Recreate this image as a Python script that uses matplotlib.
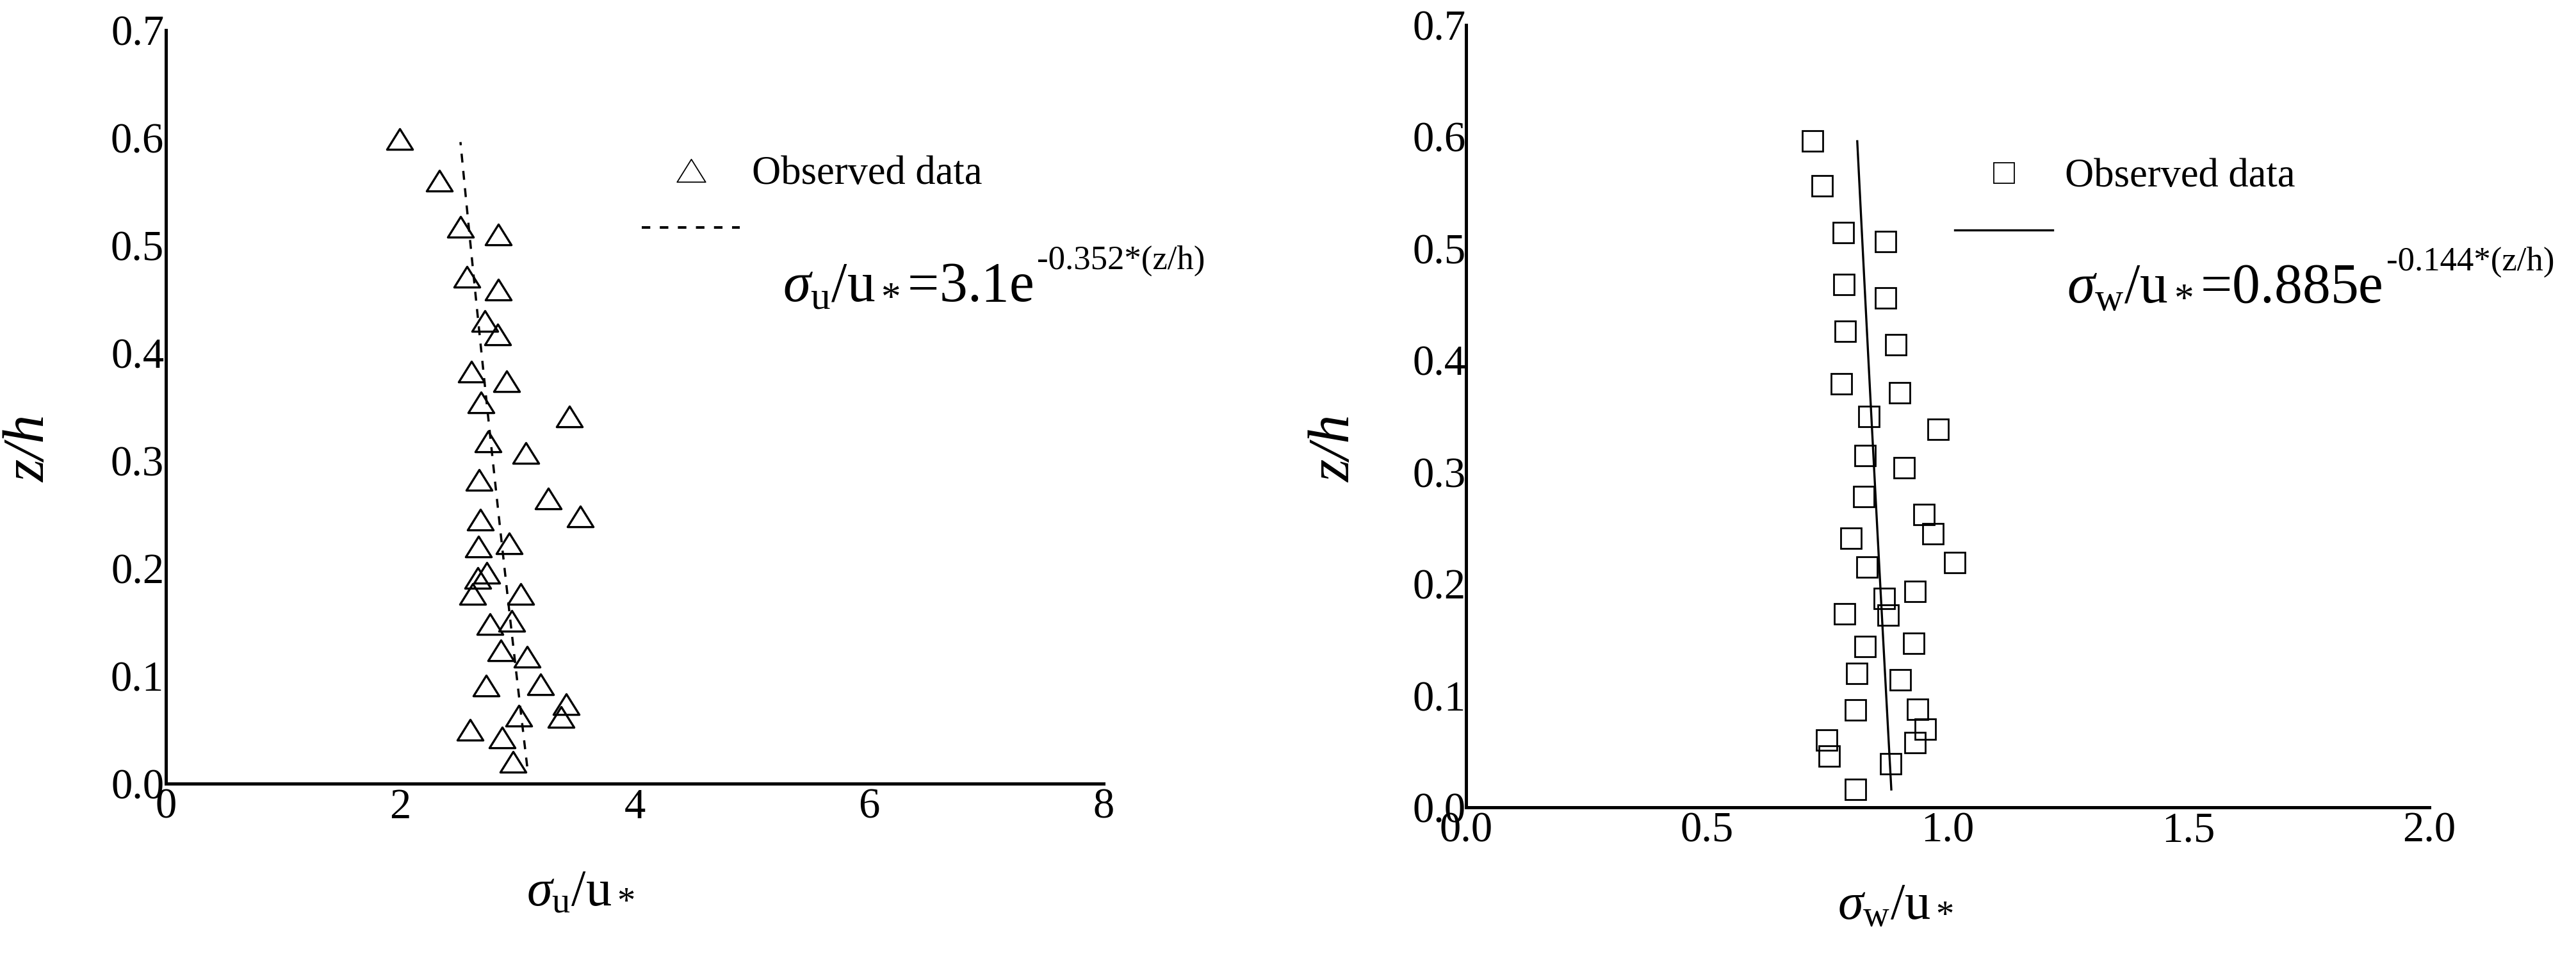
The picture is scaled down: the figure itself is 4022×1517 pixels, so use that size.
import numpy as np
import matplotlib
matplotlib.use("Agg")
import matplotlib.pyplot as plt
from matplotlib.lines import Line2D
from matplotlib.path import Path
from matplotlib.ticker import FormatStrFormatter

plt.rcParams["font.family"] = "Liberation Serif"
plt.rcParams["mathtext.fontset"] = "custom"
plt.rcParams["mathtext.rm"] = "Liberation Serif"
plt.rcParams["mathtext.it"] = "Liberation Serif:italic"

# left panel: sigma_u / u*  vs  z/h
sig_u = [1.995, 2.332, 2.514, 2.836, 2.569, 2.836, 2.724, 2.829, 2.609, 2.909,
         2.691, 3.442, 2.751, 3.069, 2.672, 3.260, 3.534, 2.683, 2.669, 2.929,
         2.738, 2.660, 2.618, 3.029, 2.765, 2.951, 2.860, 3.082, 2.734, 3.197,
         3.415, 3.370, 3.011, 2.593, 2.869, 2.960]
z_u = [0.599, 0.560, 0.517, 0.510, 0.471, 0.459, 0.430, 0.417, 0.383, 0.374,
       0.354, 0.341, 0.318, 0.307, 0.282, 0.265, 0.248, 0.245, 0.220, 0.223,
       0.196, 0.191, 0.176, 0.176, 0.148, 0.151, 0.124, 0.118, 0.091, 0.092,
       0.074, 0.062, 0.063, 0.050, 0.043, 0.020]

# right panel: sigma_w / u*  vs  z/h
sig_w = [0.720, 0.740, 0.783, 0.871, 0.785, 0.871, 0.787, 0.892, 0.779, 0.900,
         0.837, 0.980, 0.828, 0.910, 0.826, 0.951, 0.970, 0.799, 1.014, 0.832,
         0.932, 0.869, 0.876, 0.786, 0.828, 0.929, 0.811, 0.902, 0.809, 0.937,
         0.953, 0.932, 0.749, 0.754, 0.881, 0.809]
z_w = [0.596, 0.556, 0.514, 0.506, 0.468, 0.456, 0.426, 0.414, 0.379, 0.371,
       0.350, 0.338, 0.315, 0.304, 0.278, 0.262, 0.245, 0.241, 0.219, 0.215,
       0.193, 0.187, 0.172, 0.173, 0.144, 0.147, 0.120, 0.114, 0.087, 0.088,
       0.070, 0.058, 0.060, 0.046, 0.039, 0.016]

# fitted curves sigma/u* = a * exp(b * z/h), drawn over the observed z range
fit_u = (3.1, -0.352)
fit_w = (0.885, -0.144)
fit_z = (0.016, 0.596)

u_ticks = [0, 2, 4, 6, 8]
w_ticks = [0.0, 0.5, 1.0, 1.5, 2.0]
z_ticks = [0.0, 0.1, 0.2, 0.3, 0.4, 0.5, 0.6, 0.7]

W, H, DPI = 4022, 1517, 100
fig = plt.figure(figsize=(W / DPI, H / DPI), dpi=DPI)


def box(x0, x1, ytop, ybot):
    return [x0 / W, 1 - ybot / H, (x1 - x0) / W, (ybot - ytop) / H]


def fx(x):
    return x / W


def fy(y):
    return 1 - y / H


tri = Path([(-1, -0.8), (1, -0.8), (0, 0.8), (-1, -0.8)], closed=True)

ax1 = fig.add_axes(box(259, 1723, 47, 1223))
ax2 = fig.add_axes(box(2289, 3793, 39, 1260))

zz = np.linspace(fit_z[0], fit_z[1], 80)

ax1.plot(sig_u, z_u, ls="none", marker=tri, ms=29, mfc="none", mec="k", mew=2.4, clip_on=False)
ax1.plot(fit_u[0] * np.exp(fit_u[1] * zz), zz, color="k", lw=2.5, dashes=(4, 3.8))

ax2.plot(sig_w, z_w, ls="none", marker="s", ms=22.5, mfc="none", mec="k", mew=2.0, clip_on=False)
ax2.plot(fit_w[0] * np.exp(fit_w[1] * zz), zz, color="k", lw=2.4)

ax1.set_xlim(0, 8)
ax1.set_xticks(u_ticks)
ax2.set_xlim(0, 2.0)
ax2.set_xticks(w_ticks)
ax2.xaxis.set_major_formatter(FormatStrFormatter("%.1f"))

for ax, ypad in ((ax1, 2), (ax2, 0)):
    ax.set_ylim(0, 0.7)
    ax.set_yticks(z_ticks)
    ax.yaxis.set_major_formatter(FormatStrFormatter("%.1f"))
    for s in ("top", "right"):
        ax.spines[s].set_visible(False)
    for s in ("left", "bottom"):
        ax.spines[s].set_linewidth(3.6)
    ax.tick_params(axis="both", length=0, labelsize=48)
    ax.tick_params(axis="y", pad=ypad)
    ax.tick_params(axis="x", pad=5)

# axis labels
fig.text(fx(47), fy(700), "z/h", rotation=90, ha="center", va="center",
         fontsize=65, style="italic")
fig.text(fx(2085), fy(700), "z/h", rotation=90, ha="center", va="center",
         fontsize=65, style="italic")
fig.text(fx(906), fy(1413), r"$\sigma_{\rm u}$/u$_*$", ha="center", va="baseline", fontsize=58)
fig.text(fx(2960), fy(1435), r"$\sigma_{\rm w}$/u$_*$", ha="center", va="baseline", fontsize=58)

# legends
leg_kw = dict(loc="center left", bbox_transform=fig.transFigure, frameon=False,
              fontsize=45, borderpad=0, borderaxespad=0, handlelength=2.45,
              handletextpad=0.3, labelspacing=0.5, numpoints=1)
h1 = [Line2D([], [], ls="none", marker=tri, ms=32, mfc="none", mec="k", mew=1.3),
      Line2D([], [], color="k", lw=2.9, dashes=(3.3, 3.7))]
ax1.legend(h1, ["Observed data", " "], bbox_to_anchor=(fx(1002), fy(317)), **leg_kw)
h2 = [Line2D([], [], ls="none", marker="s", ms=23, mfc="none", mec="k", mew=1.3),
      Line2D([], [], color="k", lw=2.4)]
ax2.legend(h2, ["Observed data", " "], bbox_to_anchor=(fx(3052), fy(321)), **leg_kw)

# fitted equations
eq1 = fig.text(fx(1222), fy(470), r"$\sigma_{\rm u}$/u$_*$=3.1e", ha="left", va="baseline", fontsize=63)
eq2 = fig.text(fx(3227), fy(473), r"$\sigma_{\rm w}$/u$_*$=0.885e", ha="left", va="baseline", fontsize=63)
fig.canvas.draw()
r = fig.canvas.get_renderer()
x1 = eq1.get_window_extent(r).x1
x2 = eq2.get_window_extent(r).x1
fig.text(fx(x1 + 6), fy(420), "-0.352*(z/h)", ha="left", va="baseline", fontsize=38)
fig.text(fx(x2 + 6), fy(422), "-0.144*(z/h)", ha="left", va="baseline", fontsize=38)

fig.savefig("out.png", dpi=DPI)
